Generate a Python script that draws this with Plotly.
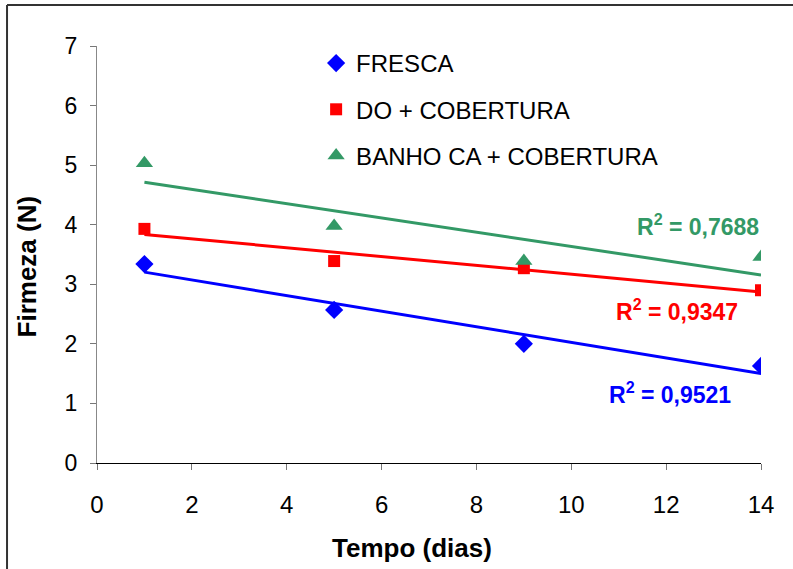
import numpy as np
import plotly.graph_objects as go

# Storage time (days) and firmness (N) for each treatment
dias = [1, 5, 9, 14]
fresca = [3.34, 2.57, 2.00, 1.63]
do_cobertura = [3.93, 3.39, 3.27, 2.90]
banho_cobertura = [5.03, 3.98, 3.39, 3.46]

nomes = ["FRESCA", "DO + COBERTURA", "BANHO CA + COBERTURA"]
r2_textos = ["0,9521", "0,9347", "0,7688"]
x_ticks = [0, 2, 4, 6, 8, 10, 12, 14]
y_ticks = [0, 1, 2, 3, 4, 5, 6, 7]

cores = ["#0000FF", "#FF0000", "#339966"]
simbolos = ["diamond", "square", "triangle-up"]
tamanhos = [14, 12, 15]
series = [fresca, do_cobertura, banho_cobertura]
# label positions (x, y in data units) for the R² annotations
r2_pos = [(12.08, 1.175), (12.23, 2.57), (12.67, 3.995)]

FONT = "Liberation Sans, Arial, sans-serif"

fig = go.Figure()

for i, (nome, ys) in enumerate(zip(nomes, series)):
    fig.add_trace(go.Scatter(
        x=dias, y=ys, mode="markers", name=nome,
        legendgroup=nome,
        marker=dict(symbol=simbolos[i], size=tamanhos[i], color=cores[i],
                    line=dict(width=0)),
    ))

# linear trend lines over the sampled interval
for i, ys in enumerate(series):
    a, b = np.polyfit(dias, ys, 1)
    xs = np.array([dias[0], dias[-1]])
    fig.add_trace(go.Scatter(
        x=xs, y=a * xs + b, mode="lines", showlegend=False,
        line=dict(color=cores[i], width=3), hoverinfo="skip",
    ))
    fig.add_annotation(
        x=r2_pos[i][0], y=r2_pos[i][1], xref="x", yref="y",
        text=f"<b>R<sup>2</sup> = {r2_textos[i]}</b>", showarrow=False,
        font=dict(family=FONT, size=23, color=cores[i]),
    )

# axis titles
fig.add_annotation(
    x=0.474, y=-0.205, xref="paper", yref="paper", showarrow=False,
    xanchor="center", yanchor="middle",
    text="<b>Tempo (dias)</b>", font=dict(family=FONT, size=26, color="black"),
)
fig.add_annotation(
    x=-0.105, y=0.472, xref="paper", yref="paper", showarrow=False,
    xanchor="center", yanchor="middle", textangle=-90,
    text="<b>Firmeza (N)</b>", font=dict(family=FONT, size=26, color="black"),
)

# outer frame (top and left edges)
fig.add_shape(type="line", xref="paper", yref="paper",
              x0=-0.1355, x1=1.2, y0=1.0983, y1=1.0983,
              line=dict(color="#333333", width=2))
fig.add_shape(type="line", xref="paper", yref="paper",
              x0=-0.1355, x1=-0.1355, y0=-0.5, y1=1.0983,
              line=dict(color="#333333", width=2))

fig.update_layout(
    width=793, height=569,
    margin=dict(l=97, r=32, t=46, b=106),
    paper_bgcolor="white", plot_bgcolor="white",
    font=dict(family=FONT, size=24, color="black"),
    showlegend=True,
    legend=dict(
        x=0.33, y=1.012, xanchor="left", yanchor="top",
        bgcolor="rgba(0,0,0,0)", font=dict(family=FONT, size=24),
        tracegroupgap=12, itemsizing="trace",
    ),
    xaxis=dict(
        range=[0, 14], tickvals=x_ticks, showgrid=False, zeroline=False,
        showline=True, linecolor="black", linewidth=1,
        ticks="outside", ticklen=6, tickcolor="#777777",
        tickfont=dict(family=FONT, size=24), ticklabelstandoff=14,
    ),
    yaxis=dict(
        range=[0, 7], tickvals=y_ticks, showgrid=False, zeroline=False,
        showline=True, linecolor="#888888", linewidth=1,
        ticks="outside", ticklen=6, tickcolor="#777777",
        tickfont=dict(family=FONT, size=23), ticklabelstandoff=8,
    ),
)

fig.write_html("out.html")
